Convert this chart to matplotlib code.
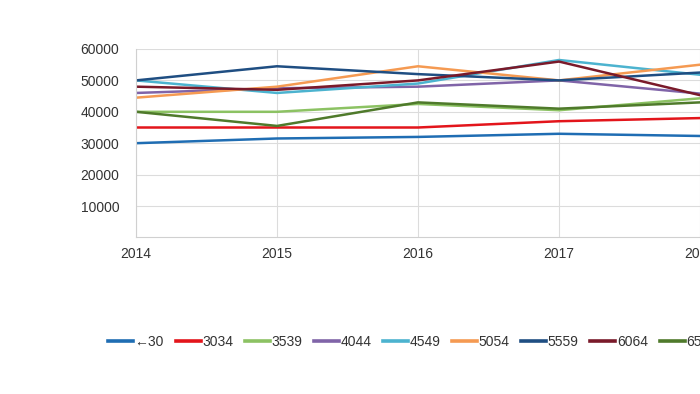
import matplotlib
matplotlib.use("Agg")
import matplotlib.pyplot as plt

plt.rcParams['font.family'] = ['Liberation Sans', 'DejaVu Sans']

# years and salary by age group
years = [2014, 2015, 2016, 2017, 2018]
groups = ['←30', '3034', '3539', '4044', '4549', '5054', '5559', '6064', '65+']

under30 = [30000, 31500, 32000, 33000, 32300]
a3034 = [35000, 35000, 35000, 37000, 38000]
a3539 = [40000, 40000, 42500, 40500, 44300]
a4044 = [46000, 47500, 48000, 50000, 45800]
a4549 = [50000, 46000, 49000, 56500, 51800]
a5054 = [44500, 48000, 54500, 50000, 55000]
a5559 = [50000, 54500, 52000, 50000, 52500]
a6064 = [48000, 47000, 50000, 56000, 45300]
a65 = [40000, 35500, 43000, 41000, 43000]

series = [under30, a3034, a3539, a4044, a4549, a5054, a5559, a6064, a65]
colors = ['#1f6db3', '#e3151b', '#8cc263', '#8064a8', '#4cb3cf',
          '#f59a52', '#1f4e82', '#7a1a2a', '#4f7a2b']

fig = plt.figure(figsize=(7, 3.94), dpi=100)
# the axes runs past the right edge, like the reference crop
ax = fig.add_axes([136 / 700, 1 - 237.4 / 394, 705 / 700, (237.4 - 49) / 394])

for vals, name, c in zip(series, groups, colors):
    ax.plot(years, vals, color=c, linewidth=1.8, label=name)

ax.set_xlim(2014, 2019)
ax.set_ylim(0, 60000)
ax.set_xticks(years)
ax.set_yticks([10000, 20000, 30000, 40000, 50000, 60000])
ax.grid(True, color='#dcdcdc', linewidth=0.8)
ax.set_axisbelow(True)
for s in ['top', 'right']:
    ax.spines[s].set_visible(False)
for s in ['left', 'bottom']:
    ax.spines[s].set_color('#d0d0d0')
ax.tick_params(length=0, labelsize=10, colors='#333333')
ax.tick_params(axis='y', pad=12)
ax.tick_params(axis='x', pad=7)

leg = fig.legend(loc='center left', bbox_to_anchor=(108 / 700, 1 - 342 / 394),
                 ncol=9, frameon=False, fontsize=10, handlelength=1.8,
                 handletextpad=0.1, columnspacing=0.85, borderpad=0,
                 borderaxespad=0)
for h in leg.get_lines():
    h.set_linewidth(2.6)
for t in leg.get_texts():
    t.set_color('#333333')

fig.savefig('out.png', dpi=100)
